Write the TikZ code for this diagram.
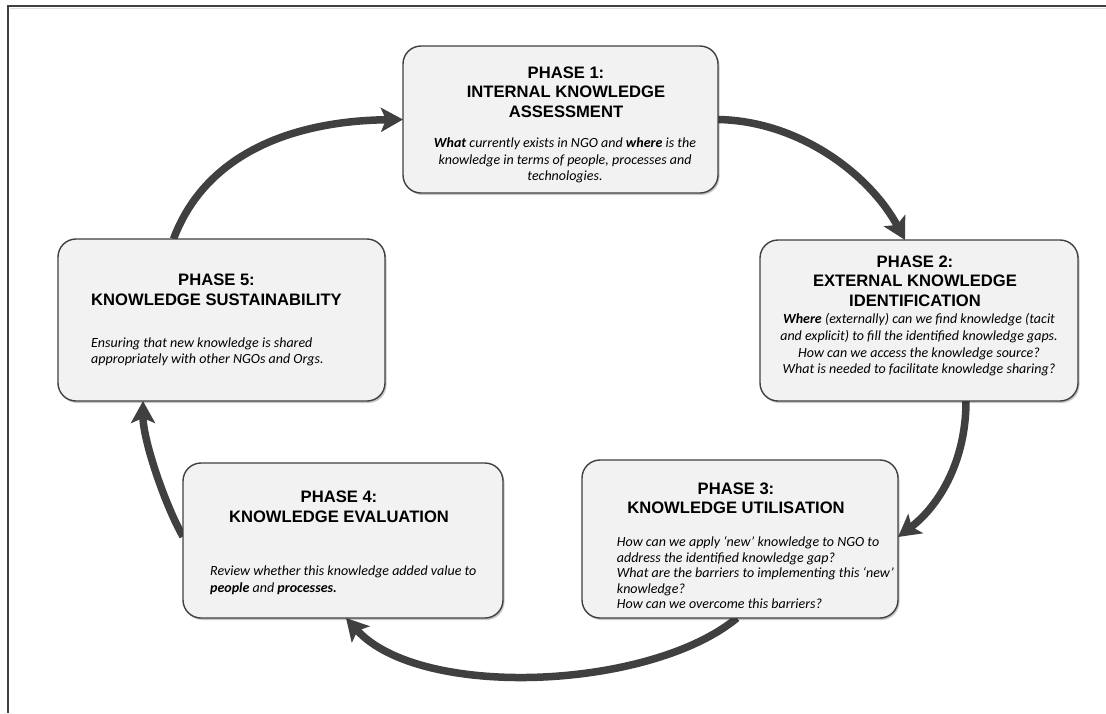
\documentclass[tikz,border=0pt]{standalone}
\usepackage{fontspec}
\setmainfont{Liberation Sans}
\newfontfamily\bodyfont{Carlito}
\usetikzlibrary{arrows.meta,shadows,backgrounds}
\definecolor{boxfill}{HTML}{F2F2F2}
\definecolor{dark}{HTML}{404040}
\begin{document}
\begin{tikzpicture}[x=1pt,y=-1pt,
  phasebox/.style={draw=dark, line width=1.4pt, fill=boxfill, rounded corners=18pt,
    inner sep=0pt, outer sep=0pt,
    drop shadow={shadow xshift=1.5pt, shadow yshift=-2pt, fill=black, opacity=0.22}},
  phasetitle/.style={font=\fontsize{16.6}{19.7}\selectfont\bfseries, align=center, inner sep=0pt},
  bodyc/.style={font=\bodyfont\itshape\fontsize{14}{16.5}\selectfont, align=center, inner sep=0pt},
  bodyl/.style={font=\bodyfont\itshape\fontsize{14}{16.6}\selectfont, align=left, inner sep=0pt, anchor=west},
  flow/.style={draw=dark, line width=7.5pt, -{Stealth[length=22pt,width=24pt,inset=5pt]}}
]
\useasboundingbox (0,0) rectangle (1106,713);
% frame
\draw[gray!25, line width=1.5pt] (10,8.5) -- (1106,8.5);
\draw[dark, line width=2pt] (8,713) -- (8,6) -- (1106,6);

% boxes
\node[phasebox, minimum width=315pt, minimum height=147pt] (b1) at (560.5,119.5) {};
\node[phasebox, minimum width=318pt, minimum height=161pt] (b2) at (919,320.5) {};
\node[phasebox, minimum width=316pt, minimum height=158pt] (b3) at (740,539) {};
\node[phasebox, minimum width=320pt, minimum height=155pt] (b4) at (343,540.5) {};
\node[phasebox, minimum width=327pt, minimum height=162pt] (b5) at (221.5,320) {};

% texts
\node[phasetitle] (t1) at (566,92) {PHASE 1:\\INTERNAL KNOWLEDGE\\ASSESSMENT};
\node[bodyc] (d1) at (565,160.3) {\textbf{What} currently exists in NGO and \textbf{where} is the\\knowledge in terms of people, processes and\\technologies.};

\node[phasetitle] (t2) at (915,281.2) {PHASE 2:\\EXTERNAL KNOWLEDGE\\IDENTIFICATION};
\node[bodyc, font=\bodyfont\itshape\fontsize{14}{16.7}\selectfont] (d2) at (919,345) {\textbf{Where} (externally) can we find knowledge (tacit\\and explicit) to fill the identified knowledge gaps.\\How can we access the knowledge source?\\What is needed to facilitate knowledge sharing?};

\node[phasetitle] (t3) at (736,498.3) {PHASE 3:\\KNOWLEDGE UTILISATION};
\node[bodyl, font=\bodyfont\itshape\fontsize{14}{15.5}\selectfont] (d3) at (616.7,572.7) {How can we apply ‘new’ knowledge to NGO to\\address the identified knowledge gap?\\What are the barriers to implementing this ‘new’\\knowledge?\\How can we overcome this barriers?};

\node[phasetitle] (t4) at (339,507) {PHASE 4:\\KNOWLEDGE EVALUATION};
\node[bodyl] (d4) at (210,580) {Review whether this knowledge added value to\\\textbf{people} and \textbf{processes.}};

\node[phasetitle] (t5) at (216.5,290) {PHASE 5:\\KNOWLEDGE SUSTAINABILITY};
\node[bodyl] (d5) at (91,351.7) {Ensuring that new knowledge is shared\\appropriately with other NGOs and Orgs.};

% arrows
\begin{scope}[on background layer]
\fill[white] (0,0) rectangle (1106,713);
\draw[flow] ([xshift=-48pt]b5.north) .. controls (205,155) and (290,121) .. (b1.west);
\draw[flow] (b1.east) .. controls (800,121) and (870,175) .. ([xshift=-14pt]b2.north);
\draw[flow] ([xshift=47pt]b2.south) .. controls (966,460) and (940,505) .. ([yshift=2pt]b3.east);
\draw[flow] ([xshift=-3pt]b3.south) .. controls (650,690) and (420,700) .. ([xshift=3pt]b4.south);
\draw[flow] ([yshift=4pt]b4.west) .. controls (165,505) and (143,440) .. ([xshift=-78.5pt]b5.south);
\end{scope}
\end{tikzpicture}
\end{document}
